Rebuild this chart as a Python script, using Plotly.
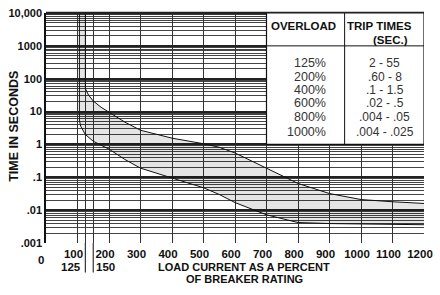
import plotly.graph_objects as go

# ---- data ----
upper_x = [125, 125, 135, 150, 175, 200, 250, 300, 400, 500, 550, 600, 700, 800, 900, 1000, 1100, 1200]
upper_y = [10000, 50, 32, 21, 13.5, 9.5, 4.8, 2.7, 1.55, 1.05, 0.82, 0.55, 0.19, 0.065, 0.032, 0.021, 0.018, 0.016]
lower_x = [106, 106, 110, 125, 150, 200, 250, 300, 400, 500, 550, 600, 700, 800, 900, 1000, 1100, 1200]
lower_y = [10000, 5.5, 3.6, 2.0, 1.25, 0.72, 0.35, 0.19, 0.095, 0.048, 0.03, 0.017, 0.0072, 0.0042, 0.0039, 0.0038, 0.0037, 0.0036]

x_grid = [100, 125, 150, 200, 300, 400, 500, 600, 700, 800, 900, 1000, 1100, 1200]
x_labels = ["100", "", "", "200", "300", "400", "500", "600", "700", "800", "900", "1000", "1100", "1200"]
y_ticks = [0.001, 0.01, 0.1, 1, 10, 100, 1000, 10000]
y_labels = [".001", ".01", ".1", "1", "10", "100", "1000", "10,000"]

overload = ["125%", "200%", "400%", "600%", "800%", "1000%"]
trip_times = ["2 - 55", ".60 - 8", ".1 - 1.5", ".02 - .5", ".004 - .05", ".004 - .025"]

# ---- layout helpers (pixel -> paper) ----
W, H = 440, 295
L, R, T, B = 46, 433, 9, 243
def xp(px):
    return (px - L) / (R - L)
def yp(py):
    return (B - py) / (B - T)

REG = "Liberation Sans, Arial, sans-serif"
minor_vals = [m * 10 ** e for e in range(-3, 4) for m in range(2, 10)]

fig = go.Figure()
fig.add_trace(go.Scatter(
    x=upper_x + lower_x[::-1], y=upper_y + lower_y[::-1],
    fill="toself", fillcolor="rgba(0,0,0,0.10)", mode="none", hoverinfo="skip"))
fig.add_trace(go.Scatter(x=upper_x, y=upper_y, mode="lines",
                         line=dict(color="#111", width=1)))
fig.add_trace(go.Scatter(x=lower_x, y=lower_y, mode="lines",
                         line=dict(color="#111", width=1)))

fig.update_layout(
    width=W, height=H, showlegend=False,
    margin=dict(l=L, r=W - R, t=T, b=H - B),
    paper_bgcolor="white", plot_bgcolor="white",
    font=dict(family=REG, color="#111"),
)
fig.update_xaxes(
    range=[0, 1200.01], tickmode="array", tickvals=x_grid, ticktext=x_labels,
    showgrid=True, gridcolor="#333", gridwidth=1.2, zeroline=False,
    ticks="", ticklabelshift=-4, ticklabelstandoff=2, tickangle=0,
    ticklabeloverflow="allow",
    tickfont=dict(size=11.5, family=REG, weight="bold"),
    showline=False,
)
fig.update_yaxes(
    type="log", range=[-3, 4], tickmode="array", tickvals=y_ticks, ticktext=y_labels,
    showgrid=True, gridcolor="#222", gridwidth=2.2, zeroline=False,
    ticks="", tickfont=dict(size=11, family=REG, weight="bold"),
    ticklabeloverflow="allow",
    showline=True, linecolor="#111", linewidth=1.5,
    minor=dict(tickmode="array", tickvals=minor_vals, showgrid=True,
               gridcolor="#444", gridwidth=1, ticks=""),
)

shapes = []
shapes.append(dict(type="line", xref="paper", yref="paper", x0=0, x1=1, y0=1, y1=1,
                   line=dict(color="#222", width=2.5)))
for xv in [125, 150]:
    shapes.append(dict(type="line", xref="x", yref="paper", x0=xv, x1=xv, y0=0, y1=yp(273),
                       line=dict(color="#333", width=1.2)))
shapes.append(dict(type="rect", xref="x", yref="y", x0=700, x1=1200, y0=1, y1=10000,
                   fillcolor="white", line=dict(color="#111", width=1.2), layer="above"))
shapes.append(dict(type="line", xref="x", yref="y", x0=700, x1=1200, y0=1000, y1=1000,
                   line=dict(color="#111", width=1), layer="above"))
shapes.append(dict(type="line", xref="x", yref="y", x0=948, x1=948, y0=1, y1=10000,
                   line=dict(color="#111", width=1), layer="above"))
fig.update_layout(shapes=shapes)

ann = []
def add(text, px, py, size=11, bold=True, xanchor="center", angle=0, color="#111", family=REG):
    ann.append(dict(text=text, x=xp(px), y=yp(py), xref="paper", yref="paper",
                    showarrow=False, xanchor=xanchor, yanchor="middle", textangle=angle,
                    font=dict(size=size, family=family, color=color,
                              weight="bold" if bold else "normal")))

add("0", 41, 260, size=11.5)
add("125", 84, 267, size=11.5, xanchor="right")
add("150", 95, 267, size=11.5, xanchor="left")
add("TIME IN SECONDS", 13, 124, size=12.5, angle=-90)
add("LOAD CURRENT AS A PERCENT", 249, 267, size=11)
add("OF BREAKER RATING", 249, 280, size=11)
add("OVERLOAD", 310, 22, size=11.5)
add("TRIP TIMES", 387, 22, size=11.5)
add("(SEC.)", 399, 36, size=11.5)
row_y = [60, 74, 87, 101, 115, 130]
for o, t, ry in zip(overload, trip_times, row_y):
    add(o, 335, ry, size=12.5, bold=False, xanchor="right", color="#333")
    add(t, 393, ry, size=12, bold=False, color="#333")
fig.update_layout(annotations=ann)

fig.write_html("out.html", post_script="document.body.style.margin='0';",
               config={"displayModeBar": False})
